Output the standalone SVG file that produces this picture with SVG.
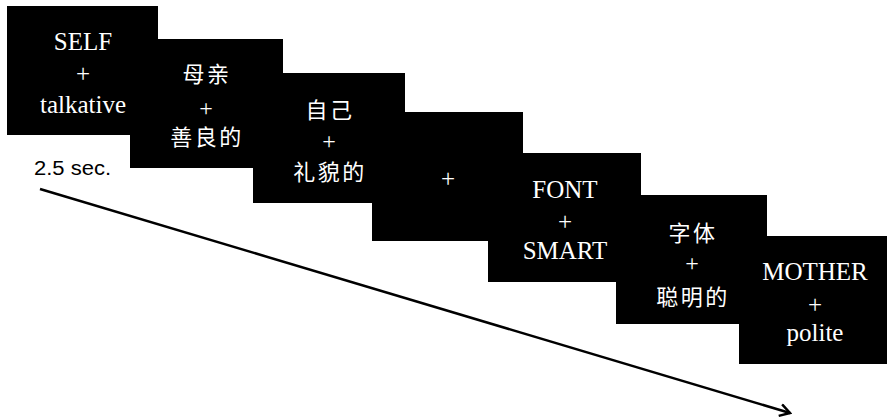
<svg xmlns="http://www.w3.org/2000/svg" width="887" height="419" viewBox="0 0 887 419">
<style>
.box{fill:#000}
.en{font-family:"Liberation Serif","Times New Roman",serif;font-size:25px;fill:#fff;text-anchor:middle}
.zh{font-family:"Noto Sans CJK SC","Noto Sans",sans-serif;font-size:22px;fill:#fff;text-anchor:middle;letter-spacing:2.5px}
.pl{font-family:"Liberation Serif","Times New Roman",serif;font-size:24px;fill:#fff;text-anchor:middle}
.lbl{font-family:"Liberation Sans",Arial,sans-serif;font-size:20px;fill:#000}
</style>
<defs>
<marker id="arr" viewBox="0 0 14 14" refX="12" refY="7" markerWidth="14" markerHeight="14" markerUnits="userSpaceOnUse" orient="auto">
<path d="M2,1 L12,7 L2,13" fill="none" stroke="#000" stroke-width="2.5"/>
</marker>
</defs>
<g id="n1"><rect class="box" x="7" y="6" width="151" height="129"/>
<text class="en" x="83" y="50">SELF</text><text class="en" x="83" y="82">+</text><text class="en" x="83" y="113">talkative</text></g>
<g id="n2"><rect class="box" x="130" y="39" width="153" height="129"/>
<text class="zh" x="207" y="82">母亲</text><text class="pl" x="206" y="116">+</text><text class="zh" x="207" y="145">善良的</text></g>
<g id="n3"><rect class="box" x="253" y="73" width="152" height="130"/>
<text class="zh" x="330" y="118">自己</text><text class="pl" x="329" y="149">+</text><text class="zh" x="330" y="180">礼貌的</text></g>
<g id="n4"><rect class="box" x="372" y="112" width="151" height="129"/>
<text class="en" x="448" y="187">+</text></g>
<g id="n5"><rect class="box" x="488" y="153" width="153" height="129"/>
<text class="en" x="565" y="198">FONT</text><text class="en" x="565" y="230">+</text><text class="en" x="565" y="259">SMART</text></g>
<g id="n6"><rect class="box" x="616" y="195" width="151" height="129"/>
<text class="zh" x="693" y="241">字体</text><text class="pl" x="692" y="271">+</text><text class="zh" x="693" y="305">聪明的</text></g>
<g id="n7"><rect class="box" x="739" y="236" width="148" height="128"/>
<text class="en" x="815" y="280">MOTHER</text><text class="en" x="815" y="313">+</text><text class="en" x="815" y="341">polite</text></g>
<text class="lbl" x="34" y="175" textLength="77" lengthAdjust="spacingAndGlyphs">2.5 sec.</text>
<g id="connectors">
<line x1="40" y1="189" x2="790" y2="413" stroke="#000" stroke-width="2.5" marker-end="url(#arr)"/>
</g>
</svg>
